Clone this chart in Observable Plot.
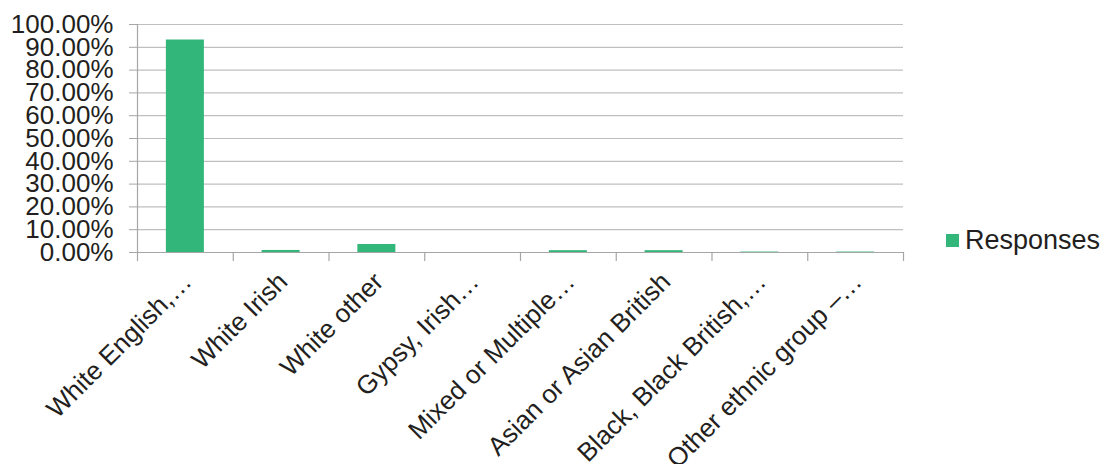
<!DOCTYPE html>
<html>
<head>
<meta charset="utf-8">
<script src="https://cdn.jsdelivr.net/npm/d3@7"></script>
<script src="https://cdn.jsdelivr.net/npm/@observablehq/plot@0.6"></script>
<style>
  html, body { margin: 0; padding: 0; background: #fff; }
  #wrap { position: relative; width: 1101px; height: 464px; font-family: "Liberation Sans", Arial, sans-serif; }
  #legend { position: absolute; left: 946px; top: 225px; display: flex; align-items: center; font-size: 27px; color: #231f20; }
  #legend .sw { width: 13px; height: 13px; background: #32b67a; margin-right: 6px; }
</style>
</head>
<body>
<div id="wrap"><div id="legend"><div class="sw"></div><span>Responses</span></div></div>
<script>
const categories = ["White English,…", "White Irish", "White other", "Gypsy, Irish…", "Mixed or Multiple…", "Asian or Asian British", "Black, Black British,…", "Other ethnic group –…"];
const responses = [0.932, 0.009, 0.035, 0, 0.008, 0.008, 0.002, 0.002];
const yTicks = [0, 0.1, 0.2, 0.3, 0.4, 0.5, 0.6, 0.7, 0.8, 0.9, 1.0];

const data = categories.map((c, i) => ({category: c, value: responses[i]}));

const W = 1101, H = 464;
const mL = 137, mR = 198, mT = 24, mB = 212;
const band = (W - mL - mR) / categories.length;
const barW = 38;
const gridColor = "#bfbfbf";
const axisColor = "#a6a6a6";
const textColor = "#231f20";

const chart = Plot.plot({
  width: W,
  height: H,
  marginLeft: mL,
  marginRight: mR,
  marginTop: mT,
  marginBottom: mB,
  style: {fontFamily: "'Liberation Sans', Arial, sans-serif", fontSize: "26px", color: textColor, background: "#fff"},
  x: {domain: categories, padding: 0, round: false},
  y: {domain: [0, 1]},
  marks: [
    Plot.ruleY(yTicks, {stroke: gridColor, strokeWidth: 1.2}),
    Plot.ruleY([0], {stroke: axisColor, strokeWidth: 1.2}),
    Plot.frame({anchor: "left", stroke: axisColor, strokeWidth: 1.2}),
    Plot.barY(data, {x: "category", y: "value", fill: "#32b67a", insetLeft: (band - barW) / 2, insetRight: (band - barW) / 2}),
    // category boundary tick marks below the axis
    Plot.ruleX(categories, {x: d => d, dx: -band / 2, y1: 0, y2: 0, insetTop: 9, stroke: axisColor, strokeWidth: 1.2}),
    Plot.ruleX([categories[categories.length - 1]], {x: d => d, dx: band / 2, y1: 0, y2: 0, insetTop: 9, stroke: axisColor, strokeWidth: 1.2}),
    Plot.axisY({ticks: yTicks, tickFormat: d3.format(".2%"), tickSize: 8, tickPadding: 16, stroke: axisColor, fill: textColor, fontSize: 26, label: null}),
    Plot.axisX({tickSize: 0, tickRotate: -45, tickPadding: 25, dx: 2, fill: textColor, fontSize: 26, label: null})
  ]
});
document.getElementById("wrap").prepend(chart);
</script>
</body>
</html>
